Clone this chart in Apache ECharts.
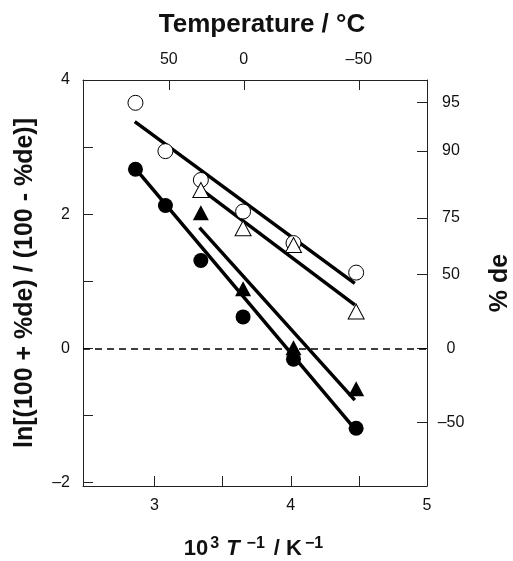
<!DOCTYPE html>
<html><head><meta charset="utf-8">
<script src="https://cdn.jsdelivr.net/npm/echarts@6/dist/echarts.min.js"></script>
<style>html,body{margin:0;padding:0;background:#fff}#c{width:513px;height:561px}</style>
</head><body><div id="c"></div>
<script>
// x = 10^3/T (K^-1), y = ln[(100+%de)/(100-%de)]
const openCircles = [[2.86,3.66],[3.08,2.94],[3.34,2.51],[3.65,2.04],[4.02,1.57],[4.48,1.13]];
const openTriangles = [[3.34,2.36],[3.65,1.79],[4.02,1.54],[4.48,0.55]];
const filledCircles = [[2.86,2.67],[3.08,2.13],[3.34,1.31],[3.65,0.47],[4.02,-0.16],[4.48,-1.19]];
const filledTriangles = [[3.34,2.02],[3.65,0.89],[4.02,0.01],[4.48,-0.60]];
// fitted lines (endpoints)
const fitOpenCircles = [[2.855,3.38],[4.47,0.97]];
const fitOpenTriangles = [[3.33,2.39],[4.47,0.65]];
const fitFilledCircles = [[2.86,2.68],[4.47,-1.20]];
const fitFilledTriangles = [[3.33,1.80],[4.47,-0.77]];
// tick labels
const bottomLabels = [3,4,5];
const bottomTicks = [3,3.5,4,4.5];
const leftLabels = [-2,0,2,4];
const leftTicks = [-2,-1,0,1,2,3,4];
const tempLabels = ['50','0','\u201350'];
const tempPositions = [3.105,3.655,4.50];
const deLabels = [95,90,75,50,0,-50];

const dePositions = deLabels.map(d => Math.log((100+d)/(100-d)));
const FONT = '"Liberation Sans", Arial, Helvetica, sans-serif';
const fmtNum = v => (v < 0 ? '\u2013' + Math.abs(v) : String(v));
const nearestIdx = (arr, v) => { let b=0; arr.forEach((a,i)=>{ if (Math.abs(a-v) < Math.abs(arr[b]-v)) b=i; }); return b; };

const axisLine = {show:true, onZero:false, lineStyle:{color:'#222', width:1}};
const tick = {inside:true, length:10, lineStyle:{color:'#222', width:1}};
const lbl = {color:'#111', fontSize:16, fontFamily:FONT};

const chart = echarts.init(document.getElementById('c'), null, {renderer:'canvas'});
chart.setOption({
  animation:false,
  backgroundColor:'#fff',
  grid:{left:83, right:86, top:80, bottom:75, containLabel:false, outerBoundsMode:'none'},
  xAxis:[
    {type:'value', position:'bottom', min:2.475, max:5,
     axisLine, splitLine:{show:false},
     axisTick:Object.assign({customValues:bottomTicks}, tick),
     axisLabel:Object.assign({customValues:bottomLabels, margin:12, formatter:v=>fmtNum(v)}, lbl),
     name:'{n|10}{s|3}{i|T}{s|\u22121}{k|/ K}{s|\u22121}', nameLocation:'middle', nameGap:50,
     nameTextStyle:{rich:{
       n:{fontSize:22, fontWeight:'bold', fontFamily:FONT, color:'#111'},
       k:{fontSize:22, fontWeight:'bold', fontFamily:FONT, color:'#111', padding:[0,1,0,6]},
       i:{fontSize:22, fontWeight:'bold', fontStyle:'italic', fontFamily:FONT, color:'#111', padding:[0,5,0,4]},
       s:{fontSize:16, fontWeight:'bold', fontFamily:FONT, color:'#111', padding:[0,3,10,2]}
     }}},
    {type:'value', position:'top', min:2.475, max:5,
     axisLine, splitLine:{show:false},
     axisTick:Object.assign({customValues:tempPositions}, tick),
     axisLabel:Object.assign({customValues:tempPositions, margin:12, formatter:v=>tempLabels[nearestIdx(tempPositions,v)]}, lbl),
     name:'Temperature / \u00b0C', nameLocation:'middle', nameGap:42,
     nameTextStyle:{fontSize:26, fontWeight:'bold', fontFamily:FONT, color:'#111', padding:[0,0,0,14]}},
  ],
  yAxis:[
    {type:'value', position:'left', min:-2.05, max:4,
     axisLine, splitLine:{show:false},
     axisTick:Object.assign({customValues:leftTicks}, tick),
     axisLabel:Object.assign({customValues:leftLabels, margin:13, formatter:v=>fmtNum(v)}, lbl),
     name:'ln[(100 + %de) / (100 - %de)]', nameLocation:'middle', nameGap:45, nameRotate:90,
     nameTextStyle:{fontSize:25, fontWeight:'bold', fontFamily:FONT, color:'#111'}},
    {type:'value', position:'right', min:-2.05, max:4,
     axisLine, splitLine:{show:false},
     axisTick:Object.assign({customValues:dePositions}, tick),
     axisLabel:Object.assign({customValues:dePositions, margin:24, align:'center',
       formatter:v=>fmtNum(deLabels[nearestIdx(dePositions,v)])}, lbl),
     name:'% de', nameLocation:'middle', nameGap:61, nameRotate:90,
     nameTextStyle:{fontSize:25, fontWeight:'bold', fontFamily:FONT, color:'#111'}}
  ],
  series:[
    {type:'line', data:fitOpenCircles, symbol:'none', lineStyle:{color:'#000', width:3.5}, z:2,
     markLine:{silent:true, symbol:'none', label:{show:false},
       lineStyle:{color:'#000', width:1.5, type:[7,5]}, data:[{yAxis:0}]}},
    {type:'line', data:fitOpenTriangles, symbol:'none', lineStyle:{color:'#000', width:3.5}, z:2},
    {type:'line', data:fitFilledCircles, symbol:'none', lineStyle:{color:'#000', width:3.5}, z:2},
    {type:'line', data:fitFilledTriangles, symbol:'none', lineStyle:{color:'#000', width:3.5}, z:2},
    {type:'scatter', data:openCircles, symbol:'circle', symbolSize:15, z:3,
     itemStyle:{color:'#fff', borderColor:'#000', borderWidth:1, opacity:1}},
    {type:'scatter', data:openTriangles, symbol:'triangle', symbolSize:[16,15], z:3,
     itemStyle:{color:'#fff', borderColor:'#000', borderWidth:1, opacity:1}},
    {type:'scatter', data:filledCircles, symbol:'circle', symbolSize:15, z:3,
     itemStyle:{color:'#000', opacity:1}},
    {type:'scatter', data:filledTriangles, symbol:'triangle', symbolSize:[16,15], z:3,
     itemStyle:{color:'#000', opacity:1}}
  ]
});
</script></body></html>
